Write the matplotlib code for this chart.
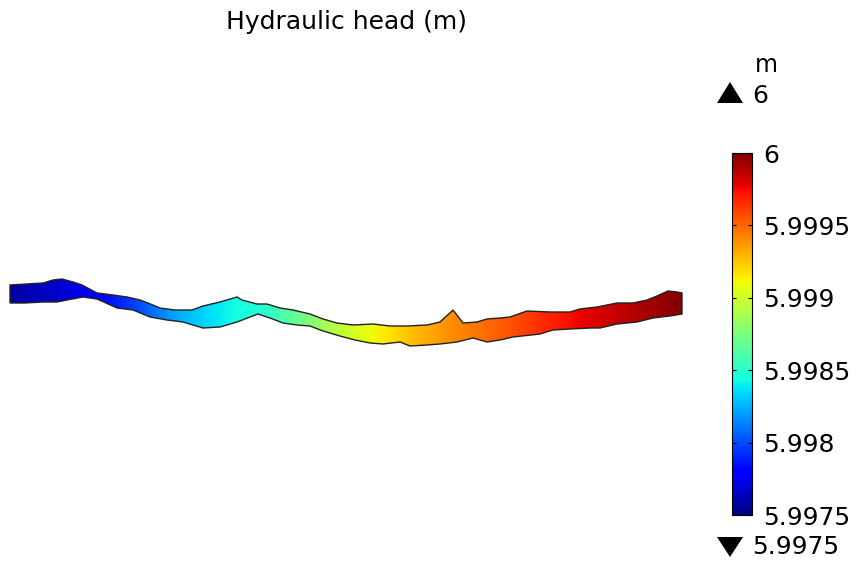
import numpy as np
import matplotlib
matplotlib.use("Agg")
import matplotlib.pyplot as plt
from matplotlib.patches import Polygon
from matplotlib.ticker import FuncFormatter

# ---------------- data ----------------
title = "Hydraulic head (m)"
unit = "m"
head_min = 5.9975
head_max = 6.0
cbar_ticks = [5.9975, 5.998, 5.9985, 5.999, 5.9995, 6.0]

# channel outline (model coordinates, y downward)
top_x = [10, 43, 53, 62, 73, 82, 97, 113, 127, 140, 148, 160, 175, 192, 203, 220, 237, 242,
         257, 267, 280, 293, 310, 323, 337, 353, 373, 390, 407, 427, 440, 453, 463, 477,
         487, 500, 510, 527, 550, 570, 580, 597, 617, 633, 647, 657, 668, 677, 682]
top_y = [285, 283, 280, 279, 282, 285, 293, 295, 297, 300, 303, 308, 310, 310, 306, 302, 297, 300,
         304, 304, 308, 310, 314, 319, 323, 325, 324, 326, 326, 325, 322, 310, 323, 322,
         319, 318, 317, 311, 312, 312, 309, 307, 303, 303, 300, 296, 291, 292, 293]
bottom_x = [10, 25, 43, 57, 67, 83, 97, 117, 133, 150, 167, 183, 203, 220, 237, 250, 258, 270,
            283, 297, 310, 323, 340, 355, 370, 383, 400, 410, 427, 440, 457, 473, 487, 500,
            513, 540, 553, 570, 590, 600, 617, 637, 653, 670, 682]
bottom_y = [303, 303, 302, 302, 300, 297, 299, 308, 310, 317, 320, 322, 328, 327, 322, 317, 314, 318,
            323, 325, 326, 331, 336, 340, 343, 344, 342, 346, 345, 344, 342, 338, 342, 340,
            337, 334, 330, 329, 328, 328, 324, 322, 318, 316, 314]

# hydraulic head along the channel
head_x = [10, 60, 97, 130, 180, 230, 265, 300, 330, 365, 420, 453, 500, 540, 575, 630, 682]
head_vals = [5.997575, 5.997675, 5.9978, 5.99795, 5.99825, 5.998425, 5.9985, 5.9987,
             5.9989, 5.999075, 5.9993, 5.9994, 5.999525, 5.99965, 5.99975, 5.999875, 5.9999875]

# ---------------- figure ----------------
W, H = 860, 572
fig = plt.figure(figsize=(W / 100, H / 100), dpi=100)
ax = fig.add_axes([0, 0, 700 / W, 1])
ax.axis("off")

verts = list(zip(top_x, top_y)) + list(zip(bottom_x[::-1], bottom_y[::-1]))

xs = np.linspace(min(top_x), max(top_x), 800)
vals = np.interp(xs, head_x, head_vals)
img = np.tile(vals, (4, 1))
ymin, ymax = min(top_y), max(bottom_y)
im = ax.imshow(img, extent=(xs[0], xs[-1], ymax, ymin), cmap="jet",
               vmin=head_min, vmax=head_max, aspect="auto",
               interpolation="bilinear", zorder=2)
clip = Polygon(verts, closed=True, transform=ax.transData)
im.set_clip_path(clip)
ax.add_patch(Polygon(verts, closed=True, facecolor="none",
                     edgecolor="#222222", lw=1.0, zorder=3))
ax.set_xlim(0, 700)
ax.set_ylim(H, 0)

# colorbar
cax = fig.add_axes([732 / W, 1 - 515 / H, 20 / W, 362 / H])
cb = fig.colorbar(im, cax=cax, ticks=cbar_ticks)
cb.ax.yaxis.set_major_formatter(FuncFormatter(lambda v, p: f"{v:g}"))
cax.tick_params(axis="y", which="major", direction="in", length=3, width=0.8,
                left=True, right=True, labelsize=18, pad=8)
cax.minorticks_off()
cb.outline.set_linewidth(0.8)

# title
fig.text(346 / W, 1 - 22 / H, title, ha="center", va="center", fontsize=18)

# max / min indicators
fig.text(755 / W, 1 - 65 / H, unit, ha="left", va="center", fontsize=17)
fig.text(752 / W, 1 - 96 / H, f"{head_max:g}", ha="left", va="center", fontsize=18)
fig.text(752 / W, 1 - 547 / H, f"{head_min:g}", ha="left", va="center", fontsize=18)


def fpt(px, py):
    return (px / W, 1 - py / H)


fig.add_artist(Polygon([fpt(717, 103), fpt(743, 103), fpt(730, 82)], closed=True,
                       facecolor="black", edgecolor="none", transform=fig.transFigure))
fig.add_artist(Polygon([fpt(717, 537), fpt(743, 537), fpt(730, 557)], closed=True,
                       facecolor="black", edgecolor="none", transform=fig.transFigure))

fig.savefig("out.png", dpi=100)
